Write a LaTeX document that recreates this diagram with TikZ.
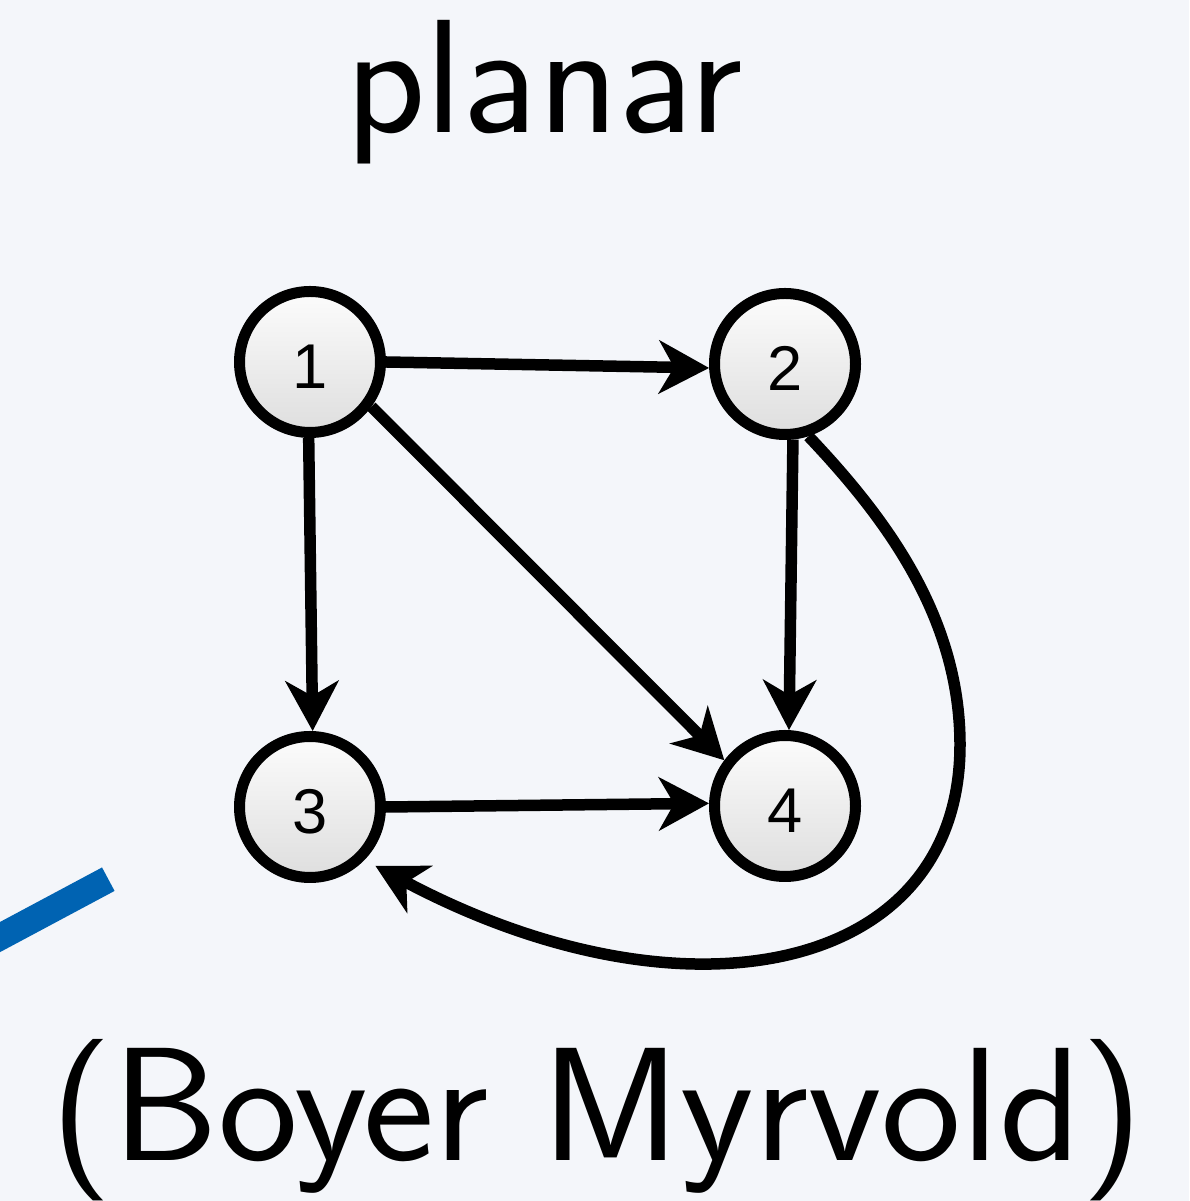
\documentclass[tikz,border=0pt]{standalone}
\usepackage{fontspec}
\newfontfamily\digitfont{Liberation Sans}
\usetikzlibrary{arrows.meta}
\definecolor{bgcol}{RGB}{244,246,250}
\definecolor{blueline}{RGB}{0,99,178}
\definecolor{nodetop}{RGB}{252,252,252}
\definecolor{nodebottom}{RGB}{222,222,222}
\tikzset{
  vertex/.style={circle, draw=black, line width=0.11cm, minimum size=1.41cm, inner sep=0pt,
    top color=nodetop, bottom color=nodebottom,
    font=\digitfont\fontsize{18}{20}\selectfont, text height=0.54cm, text depth=0pt},
  edge/.style={line width=0.115cm, -{Stealth[length=0.5cm, width=0.53cm, inset=0.15cm]}},
  bigtext/.style={font=\sffamily\fontsize{46}{50}\selectfont, inner sep=0pt, anchor=base}
}
\begin{document}
\begin{tikzpicture}
\fill[bgcol] (0,0) rectangle (11.89,12.01);
\useasboundingbox (0,0) rectangle (11.89,12.01);
% blue stroke
\coordinate (bA) at (-0.3,2.479);
\coordinate (bB) at (1.083,3.218);
\draw[blueline, line width=0.266cm] (bA) -- (bB);
% titles
\node[bigtext] (title) at (5.44,10.68) {\scalebox{1.03}[1]{planar}};
\node[bigtext] (sub) at (5.97,0.41) {\scalebox{1.05}[1]{(Boyer Myrvold)}};
% vertices
\node[vertex] (n1) at (3.10,8.39) {1};
\node[vertex] (n2) at (7.85,8.37) {2};
\node[vertex] (n3) at (3.10,3.94) {3};
\node[vertex] (n4) at (7.85,3.95) {4};
% edges
\draw[edge] (n1.0) -- (n2.183);
\draw[edge] (n1.269) -- (n3.88);
\draw[edge] (n2.276) -- (n4.87);
\draw[edge] (n3.0) -- (n4.178);
\draw[edge] (n1.-36.4) -- (n4.143);
\draw[edge] (n2.-72) .. controls (8.83,6.86) and (9.60,5.86) .. (9.60,4.56)
  .. controls (9.60,2.26) and (6.84,1.71) .. ([shift={(-42:0.12)}]n3.-42);
\end{tikzpicture}
\end{document}
